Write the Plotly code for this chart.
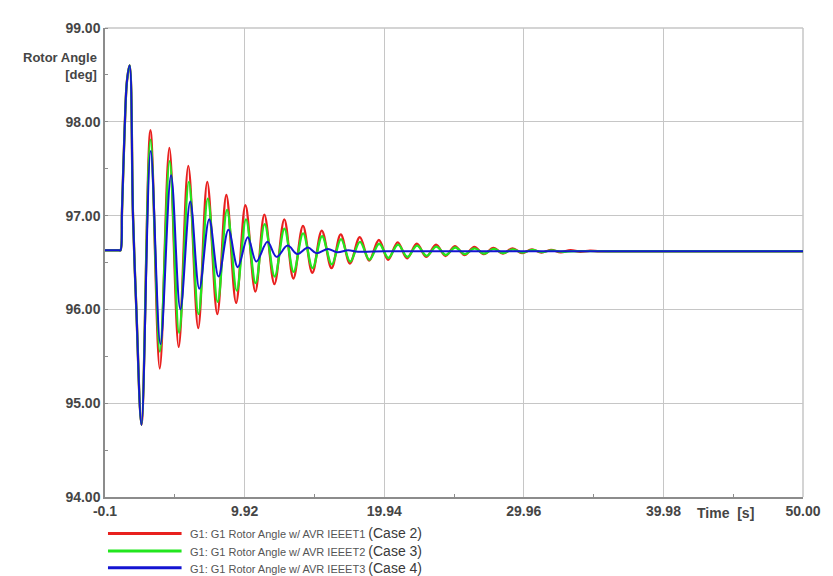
import plotly.graph_objects as go

# ---------------- data ----------------
common_t = [-0.1, 0.91, 1.01, 1.12, 1.31, 1.48, 1.67, 1.91, 2.15, 2.52]
common_v = [96.63, 96.63, 96.63, 97.05, 97.92, 98.44, 98.60, 97.00, 96.00, 94.77]

case2_t = [3.16, 3.83, 4.52, 5.19, 5.88, 6.59, 7.24, 7.96, 8.61, 9.31, 9.98, 10.69,
           11.34, 12.06, 12.77, 13.42, 14.11, 14.78, 15.46, 16.16, 16.82, 17.48,
           18.19, 18.86, 19.56, 20.22, 20.91, 21.58, 22.28, 22.96, 23.66, 24.34,
           25.01, 25.71, 26.41, 27.08, 27.78, 28.46, 29.16, 29.84, 30.54, 31.22,
           31.91, 32.61, 33.31, 34.01, 34.71, 35.41, 38.00, 42.00, 46.00, 50.00]
case2_v = [97.91, 95.37, 97.72, 95.60, 97.53, 95.80, 97.36, 95.95, 97.22, 96.07, 97.11, 96.19,
           97.01, 96.27, 96.96, 96.33, 96.89, 96.39, 96.84, 96.44, 96.80, 96.49,
           96.77, 96.52, 96.74, 96.53, 96.715, 96.545, 96.70, 96.56, 96.69, 96.57,
           96.675, 96.58, 96.665, 96.59, 96.655, 96.595, 96.65, 96.60, 96.64, 96.605,
           96.635, 96.61, 96.63, 96.615, 96.625, 96.62, 96.62, 96.62, 96.62, 96.62]

case3_t = [3.16, 3.84, 4.54, 5.22, 5.92, 6.61, 7.28, 7.99, 8.66, 9.36, 10.02, 10.71,
           11.36, 12.08, 12.78, 13.44, 14.12, 14.80, 15.48, 16.18, 16.84, 17.50,
           18.20, 18.88, 19.58, 20.24, 20.93, 21.61, 22.30, 22.98, 23.68, 24.36,
           25.04, 25.72, 26.42, 27.11, 27.80, 28.48, 29.18, 29.86, 30.56, 31.26,
           31.96, 32.66, 33.36, 36.00, 40.00, 45.00, 50.00]
case3_v = [97.81, 95.55, 97.58, 95.75, 97.36, 95.95, 97.18, 96.08, 97.06, 96.20, 96.96, 96.28,
           96.91, 96.35, 96.86, 96.40, 96.81, 96.44, 96.78, 96.48, 96.75, 96.51,
           96.72, 96.53, 96.70, 96.55, 96.69, 96.56, 96.68, 96.57, 96.67, 96.58,
           96.66, 96.59, 96.65, 96.595, 96.645, 96.60, 96.64, 96.605, 96.635, 96.61,
           96.63, 96.615, 96.62, 96.62, 96.62, 96.62, 96.62]

case4_t = [3.18, 3.88, 4.64, 5.31, 6.02, 6.67, 7.38, 8.05, 8.76, 9.43, 10.15, 10.76,
           11.56, 12.21, 13.01, 13.71, 14.46, 15.06, 15.91, 16.56, 17.36, 18.06,
           20.00, 25.00, 30.00, 35.00, 40.00, 45.00, 50.00]
case4_v = [97.69, 95.63, 97.43, 96.00, 97.15, 96.22, 96.96, 96.35, 96.85, 96.45, 96.77, 96.51,
           96.72, 96.56, 96.68, 96.59, 96.66, 96.60, 96.645, 96.61, 96.63, 96.615,
           96.62, 96.62, 96.62, 96.62, 96.62, 96.62, 96.62]

series_names = ["G1: G1 Rotor Angle w/ AVR IEEET1",
                "G1: G1 Rotor Angle w/ AVR IEEET2",
                "G1: G1 Rotor Angle w/ AVR IEEET3"]
case_labels = ["(Case 2)", "(Case 3)", "(Case 4)"]
series_colors = ["#e8201e", "#22e61e", "#1414d2"]

x_tickvals = [-0.1, 9.92, 19.94, 29.96, 39.98, 50.00]
x_ticktext = ["-0.1", "9.92", "19.94", "29.96", "39.98", "50.00"]
x_minor = [4.91, 14.93, 24.95, 34.97, 44.99]
y_tickvals = [94, 95, 96, 97, 98, 99]

# ---------------- figure ----------------
OFF = 8                      # page body margin offset
W, H = 833 - OFF, 576 - OFF
PL, PR, PT, PB = 105, 807, 20, 497     # plot area in window pixels
ML, MT = PL - OFF, PT - OFF
MR, MB = W - (PR - OFF), H - (PB - OFF)
PW, PH = PR - PL, PB - PT

def px_x(p):
    return (p - PL) / PW

def px_y(p):
    return (PB - p) / PH

fig = go.Figure()
all_t = [common_t + case2_t, common_t + case3_t, common_t + case4_t]
all_v = [common_v + case2_v, common_v + case3_v, common_v + case4_v]
widths = [2.4, 2.3, 2.0]
for t, v, name, col, w in zip(all_t, all_v, series_names, series_colors, widths):
    fig.add_trace(go.Scatter(x=t, y=v, mode="lines", name=name,
                             line=dict(color=col, width=w, shape="spline", smoothing=1.0),
                             showlegend=False))

tick_font = dict(family="Liberation Sans, Arial, sans-serif", size=14, color="#454545", weight="bold")

fig.update_xaxes(range=[-0.1, 50.0], tickvals=x_tickvals, ticktext=x_ticktext,
                 showgrid=True, gridcolor="#c6c6c6", gridwidth=1,
                 showline=True, linecolor="#8c8c8c", linewidth=1.5,
                 ticks="", tickfont=tick_font, zeroline=False,
                 minor=dict(tickvals=x_minor, ticks="inside", ticklen=3,
                            tickcolor="#8c8c8c", showgrid=False))
fig.update_yaxes(range=[94, 99], tickvals=y_tickvals, tickformat=".2f",
                 showgrid=True, gridcolor="#c6c6c6", gridwidth=1,
                 showline=True, linecolor="#8c8c8c", linewidth=1.5,
                 ticks="", tickfont=tick_font, zeroline=False,
                 minor=dict(dtick=0.5, ticks="inside", ticklen=3,
                            tickcolor="#8c8c8c", showgrid=False))

shapes = [
    dict(type="line", xref="paper", yref="paper", x0=0, x1=1, y0=1, y1=1,
         line=dict(color="#c6c6c6", width=1.5), layer="below"),
    dict(type="line", xref="paper", yref="paper", x0=1, x1=1, y0=0, y1=1,
         line=dict(color="#c6c6c6", width=1.5), layer="below"),
]
annotations = [
    dict(text="Rotor Angle<br>[deg]", xref="paper", yref="paper",
         x=px_x(99), y=px_y(59), xanchor="right", yanchor="middle", align="right",
         showarrow=False,
         font=dict(family="Liberation Sans, Arial, sans-serif", size=13, color="#454545", weight="bold")),
    dict(text="Time  [s]", xref="paper", yref="paper",
         x=px_x(729), y=px_y(513), xanchor="center", yanchor="middle",
         showarrow=False,
         font=dict(family="Liberation Sans, Arial, sans-serif", size=14, color="#454545", weight="bold")),
]
leg_rows = [534, 552, 569]
for row, name, lab, col in zip(leg_rows, series_names, case_labels, series_colors):
    shapes.append(dict(type="line", xref="paper", yref="paper",
                       x0=px_x(108), x1=px_x(182), y0=px_y(row), y1=px_y(row),
                       line=dict(color=col, width=3)))
    annotations.append(dict(
        text=name + ' <span style="font-size:14px;color:#3a3a3a">' + lab + '</span>',
        xref="paper", yref="paper", x=px_x(188), y=px_y(row),
        xanchor="left", yanchor="middle", showarrow=False,
        font=dict(family="Liberation Sans, Arial, sans-serif", size=11, color="#555555")))

fig.update_layout(width=W, height=H,
                  margin=dict(l=ML, r=MR, t=MT, b=MB),
                  paper_bgcolor="white", plot_bgcolor="white",
                  shapes=shapes, annotations=annotations, showlegend=False)

fig.write_html("out.html")
